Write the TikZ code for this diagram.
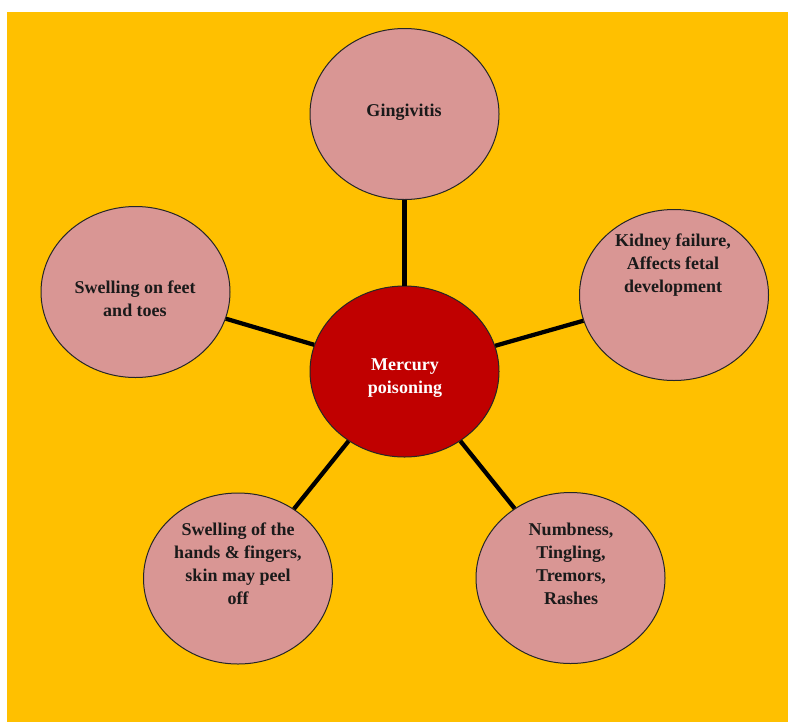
\documentclass[tikz,border=0pt]{standalone}
\usepackage{fontspec}
\setmainfont{Liberation Serif}
\usetikzlibrary{shapes.geometric}
\definecolor{bgyellow}{HTML}{FFC000}
\definecolor{bubblepink}{HTML}{D99694}
\definecolor{centerred}{HTML}{C00000}
\definecolor{textdark}{HTML}{1A1A1A}
\tikzset{
  bubble/.style={ellipse, draw=black!85, line width=0.75pt, fill=bubblepink,
    minimum width=141.75pt, minimum height=128.25pt, inner sep=0pt},
  hub/.style={bubble, fill=centerred},
  lbl/.style={align=center, text=textdark, inner sep=0pt,
    font=\fontsize{13.5}{17.2}\selectfont\bfseries},
  hublbl/.style={lbl, text=white},
  conn/.style={draw=black, line width=3.2pt}
}
\begin{document}
\begin{tikzpicture}[x=0.75pt,y=-0.75pt]
\useasboundingbox (0,0) rectangle (788,722);
\fill[bgyellow] (7,12) rectangle (788,722);
% bubbles
\node[hub]    (c)  at (404.5,371.5) {};
\node[bubble] (g)  at (404.5,114) {};
\node[bubble] (k)  at (674,295) {};
\node[bubble] (f)  at (135.5,292) {};
\node[bubble] (h)  at (238,578.5) {};
\node[bubble] (n)  at (570.5,578) {};
% connectors
\draw[conn] (c) -- (g);
\draw[conn] (c) -- (k);
\draw[conn] (c) -- (f);
\draw[conn] (c) -- (h);
\draw[conn] (c) -- (n);
% labels
\node[hublbl] (ct) at (405,378.5) {Mercury\\poisoning};
\node[lbl] (gt) at (404,112) {Gingivitis};
\node[lbl] (kt) at (673,265.5) {Kidney failure,\\Affects fetal\\development};
\node[lbl] (ft) at (135,299) {Swelling on feet\\and toes};
\node[lbl] (ht) at (238,564) {Swelling of the\\hands \& fingers,\\skin may peel\\off};
\node[lbl] (nt) at (571,564) {Numbness,\\Tingling,\\Tremors,\\Rashes};
\end{tikzpicture}
\end{document}
